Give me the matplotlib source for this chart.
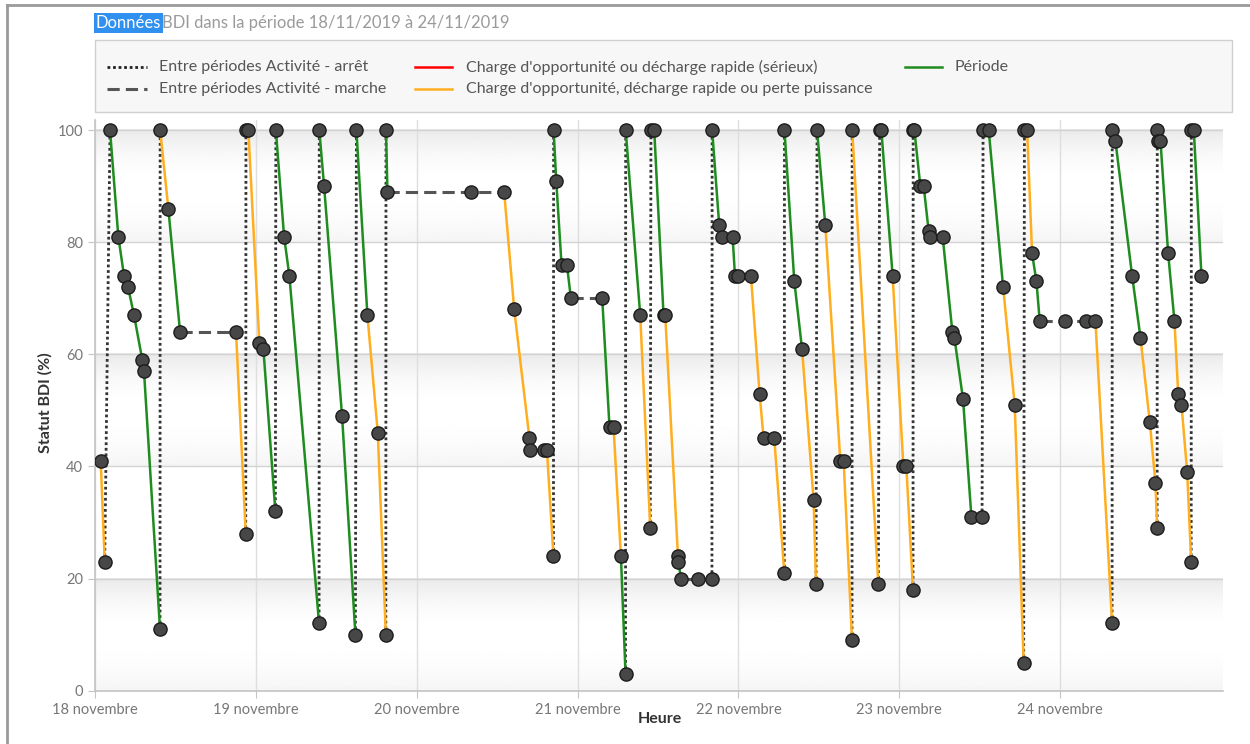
import datetime
import numpy as np
import matplotlib
matplotlib.use("Agg")
import matplotlib.pyplot as plt
import matplotlib.dates as mdates
from matplotlib.lines import Line2D
from matplotlib.patches import Rectangle
from matplotlib.ticker import FuncFormatter

plt.rcParams['font.family'] = ['Lato', 'DejaVu Sans']

# heures depuis le 18/11/2019 00:00 et statut BDI (%) de chaque point
debut = datetime.datetime(2019, 11, 18)
jours = ["18 novembre", "19 novembre", "20 novembre", "21 novembre",
         "22 novembre", "23 novembre", "24 novembre"]
heures = [
    0.85, 1.45,
    2.24, 3.48, 4.33, 4.93, 5.82, 7.06, 7.31, 9.70,
    9.72, 10.94, 12.69, 21.04, 22.49,
    22.52, 22.88, 24.52, 25.12, 26.91,
    26.98, 28.21, 29.00, 33.43,
    33.46, 34.18, 36.86, 38.85,
    39.00, 40.64, 42.19, 43.39,
    43.41, 43.63, 56.07, 61.04, 62.54, 64.82, 64.84, 67.01, 67.42, 68.40,
    68.42, 68.81, 69.60, 70.40, 71.00, 75.67, 76.76, 77.36, 78.46, 79.15,
    79.17, 81.34, 82.84,
    82.94, 83.43, 84.82, 85.07, 86.97, 86.99, 87.46, 89.95, 92.04,
    92.07, 93.13, 93.54, 95.12, 95.48, 95.92, 97.86, 99.15, 99.75, 101.34, 102.84,
    102.86, 104.33, 105.48, 107.21, 107.57,
    107.72, 108.96, 111.19, 111.69, 112.94,
    112.96, 116.87,
    117.06, 117.31, 119.00, 120.60, 121.04, 122.04,
    122.06, 122.24, 123.13, 123.63, 124.37, 124.63, 126.46, 127.91, 128.21, 129.50, 130.75, 132.34,
    132.49, 133.33, 135.48, 137.21, 138.55,
    138.66, 139.06, 139.80, 140.45, 140.94, 144.67, 147.91, 149.25, 151.74,
    151.76, 152.24, 154.73, 155.97, 157.36, 158.21, 158.46,
    158.48, 158.66, 158.96, 160.10, 161.04, 161.60, 162.09, 162.94, 163.54,
    163.56, 163.93, 165.07,
]
statut = [
    41, 23,
    100, 81, 74, 72, 67, 59, 57, 11,
    100, 86, 64, 64, 28,
    100, 100, 62, 61, 32,
    100, 81, 74, 12,
    100, 90, 49, 10,
    100, 67, 46, 10,
    100, 89, 89, 89, 68, 45, 43, 43, 43, 24,
    100, 91, 76, 76, 70, 70, 47, 47, 24, 3,
    100, 67, 29,
    100, 100, 67, 67, 24, 23, 20, 20, 20,
    100, 83, 81, 81, 74, 74, 74, 53, 45, 45, 21,
    100, 73, 61, 34, 19,
    100, 83, 41, 41, 9,
    100, 19,
    100, 100, 74, 40, 40, 18,
    100, 100, 90, 90, 82, 81, 81, 64, 63, 52, 31, 31,
    100, 100, 72, 51, 5,
    100, 100, 78, 73, 66, 66, 66, 66, 12,
    100, 98, 74, 63, 48, 37, 29,
    100, 98, 98, 78, 66, 53, 51, 39, 23,
    100, 100, 74,
]
# type du segment entre deux points consécutifs
# A = arrêt, M = marche, R = sérieux, O = charge/perte, G = période
segments = (
    "O A "
    "G G G G G G G A "
    "O G M O A "
    "O O G G A "
    "G G G A "
    "G G G A "
    "G O O A "
    "G M M O O O M O O A "
    "G G G G M G G O G A "
    "G O A "
    "G G G O O G M M A "
    "G G G G G M O O O O A "
    "G G O O A "
    "G O O O A "
    "O A "
    "G G O O O A "
    "G G G G G G G G G G M A "
    "G G O O A "
    "O O G G M M M O A "
    "G G G O O O A "
    "G G G G O O O O A "
    "G G"
).split()
assert len(heures) == len(statut) == len(segments) + 1

legende = {
    'A': "Entre périodes Activité - arrêt",
    'M': "Entre périodes Activité - marche",
    'R': "Charge d'opportunité ou décharge rapide (sérieux)",
    'O': "Charge d'opportunité, décharge rapide ou perte puissance",
    'G': "Période",
}
styles = {
    'A': dict(color='#333333', lw=2.0, ls=(0, (1, 1))),
    'M': dict(color='#555555', lw=2.2, ls=(0, (4, 2))),
    'R': dict(color='#ff0000', lw=1.8, ls='-'),
    'O': dict(color='#ffae1f', lw=1.8, ls='-'),
    'G': dict(color='#1e8c1e', lw=1.8, ls='-'),
}

x = np.array([mdates.date2num(debut + datetime.timedelta(hours=h)) for h in heures])
y = np.array(statut, dtype=float)

fig = plt.figure(figsize=(12.5, 7.44), dpi=100)
ax = fig.add_axes([95 / 1250, 1 - 690.7 / 744, (1222.7 - 95) / 1250, (690.7 - 120) / 744])

x0 = mdates.date2num(debut)
x1 = mdates.date2num(debut + datetime.timedelta(days=7.01))

# bandes de fond en dégradé
t = np.linspace(0, 1, 100)
v = 1 - 0.085 * np.clip(1 - 2 * t, 0, None) ** 2 - 0.04 * np.clip(2 * t - 1, 0, None) ** 2
grad = v[:, None]
for lo in [0, 40, 80]:
    ax.imshow(grad, extent=[x0, x1, lo, lo + 20], aspect='auto', cmap='gray',
              vmin=0, vmax=1, zorder=0, interpolation='bilinear')

ordre = ['A', 'M', 'O', 'G']
for code in ordre:
    xs, ys = [], []
    dernier = None
    for i, s in enumerate(segments):
        if s != code:
            continue
        if dernier != i - 1 and xs:
            xs.append(np.nan)
            ys.append(np.nan)
        if dernier != i - 1:
            xs.append(x[i])
            ys.append(y[i])
        xs.append(x[i + 1])
        ys.append(y[i + 1])
        dernier = i
    st = styles[code]
    ax.plot(xs, ys, color=st['color'], lw=st['lw'], linestyle=st['ls'],
            zorder=3 if code in 'AM' else 4, solid_capstyle='butt')

ax.plot(x, y, 'o', ms=9.5, mfc='#474747', mec='#1c1c1c', mew=1.0, zorder=5)

ax.set_xlim(x0, x1)
ax.set_ylim(0, 101.8)
ax.set_yticks([0, 20, 40, 60, 80, 100])
ax.set_xticks([mdates.date2num(debut + datetime.timedelta(days=k)) for k in range(len(jours))])
ax.set_xticklabels(jours)

ax.set_axisbelow(True)
ax.grid(axis='y', color='#d2d2d2', lw=1)
ax.grid(axis='x', color='#dedede', lw=1)
for s in ['top', 'right']:
    ax.spines[s].set_visible(False)
for s in ['left', 'bottom']:
    ax.spines[s].set_color('#c4c4c4')
    ax.spines[s].set_linewidth(1.2)
ax.tick_params(colors='#c4c4c4', labelcolor='#777777', labelsize=10.5, length=5)

fig.text(45 / 1250, 1 - 403 / 744, "Statut BDI (%)", rotation=90, ha='center', va='center',
         fontsize=11.5, fontweight='bold', color='#333333')
fig.text(660 / 1250, 1 - 719 / 744, "Heure", ha='center', va='center',
         fontsize=11.5, fontweight='bold', color='#333333')

# titre
fig.text(95.5 / 1250, 1 - 23 / 744, "Données", color='white', fontsize=12, va='center',
         bbox=dict(boxstyle='square,pad=0.12', fc='#3090f0', ec='none'))
fig.text(162 / 1250, 1 - 23 / 744, "BDI dans la période 18/11/2019 à 24/11/2019",
         color='#9a9a9a', fontsize=12, va='center')

# légende
fig.add_artist(Rectangle((95 / 1250, 1 - 112 / 744), (1232 - 95) / 1250, 72 / 744,
                         transform=fig.transFigure, fc='#f7f7f7', ec='#cfcfcf', lw=1))
positions = {
    'A': (107, 147, 67, 159),
    'M': (107, 147, 89, 159),
    'R': (415, 452, 67, 466),
    'O': (415, 452, 89, 466),
    'G': (905, 942, 67, 955),
}
for code, (lx0, lx1, ly, tx) in positions.items():
    st = styles[code]
    fig.add_artist(Line2D([lx0 / 1250, lx1 / 1250], [1 - ly / 744, 1 - ly / 744],
                          transform=fig.transFigure, color=st['color'] if code != 'A' else '#222222',
                          lw=st['lw'], linestyle=st['ls']))
    fig.text(tx / 1250, 1 - ly / 744, legende[code], color='#555555', fontsize=11.5, va='center')

# cadre
fig.add_artist(Line2D([7 / 1250, 7 / 1250], [0, 1 - 5 / 744], transform=fig.transFigure,
                      color='#9a9a9a', lw=2))
fig.add_artist(Line2D([7 / 1250, 1], [1 - 5 / 744, 1 - 5 / 744], transform=fig.transFigure,
                      color='#9a9a9a', lw=2))

fig.savefig("out.png", dpi=100)
